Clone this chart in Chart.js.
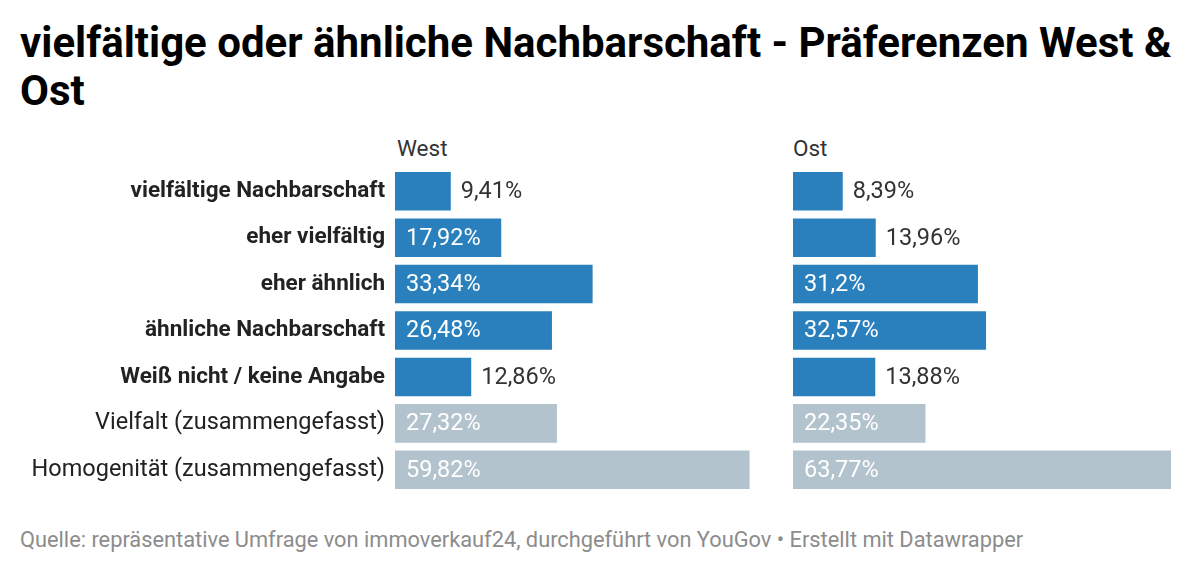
<!DOCTYPE html>
<html lang="de">
<head>
<meta charset="utf-8">
<script src="https://cdn.jsdelivr.net/npm/chart.js@4"></script>
<style>
  html, body { margin: 0; padding: 0; background: #fff; }
  body { width: 1200px; height: 573px; position: relative; overflow: hidden; font-family: Roboto, sans-serif; }
  #title { position: absolute; left: 20px; top: 19px; width: 1170px; font-weight: bold; font-size: 42px; line-height: 48px; color: #000; }
  .panel-head { position: absolute; top: 135px; font-size: 22.5px; color: #333; }
  #footer { position: absolute; left: 20px; top: 527px; font-size: 21.8px; color: #8c8c8c; white-space: nowrap; }
  canvas { position: absolute; top: 168px; }
</style>
</head>
<body>
<div id="title">vielfältige oder ähnliche Nachbarschaft - Präferenzen West &amp; Ost</div>
<div class="panel-head" style="left:397px">West</div>
<div class="panel-head" style="left:793px">Ost</div>
<canvas id="westChart" width="773" height="325" style="left:0"></canvas>
<canvas id="ostChart" width="407" height="325" style="left:793px"></canvas>
<div id="footer">Quelle: repräsentative Umfrage von immoverkauf24, durchgeführt von YouGov • Erstellt mit Datawrapper</div>

<script>
// ---- data ----
const categories = [
  'vielfältige Nachbarschaft',
  'eher vielfältig',
  'eher ähnlich',
  'ähnliche Nachbarschaft',
  'Weiß nicht / keine Angabe',
  'Vielfalt (zusammengefasst)',
  'Homogenität (zusammengefasst)'
];
const westValues = [9.41, 17.92, 33.34, 26.48, 12.86, 27.32, 59.82];
const ostValues = [8.39, 13.96, 31.2, 32.57, 13.88, 22.35, 63.77];
const boldRows = 5; // first five rows are the single answers

const BLUE = '#2a80bd';
const GREY = '#b3c3ce';
const X_MAX = 63.77;
const FONT = 'Roboto, sans-serif';

const barColors = categories.map((c, i) => i < boldRows ? BLUE : GREY);

function fmt(v) {
  return String(v).replace('.', ',') + '%';
}

// value labels: inside the bar when they fit, otherwise just after it
const valueLabels = {
  id: 'valueLabels',
  afterDatasetsDraw(chart) {
    const ctx = chart.ctx;
    const meta = chart.getDatasetMeta(0);
    const data = chart.data.datasets[0].data;
    ctx.save();
    ctx.font = '23.5px ' + FONT;
    ctx.textBaseline = 'middle';
    ctx.textAlign = 'left';
    meta.data.forEach((bar, i) => {
      const txt = fmt(data[i]);
      const tw = ctx.measureText(txt).width;
      const w = bar.x - bar.base;
      if (w >= tw + 24) {
        ctx.fillStyle = '#ffffff';
        ctx.fillText(txt, bar.base + 11, bar.y + 1);
      } else {
        ctx.fillStyle = '#333333';
        ctx.fillText(txt, bar.x + 10, bar.y + 1);
      }
    });
    ctx.restore();
  }
};

function makeChart(id, values, showLabels) {
  return new Chart(document.getElementById(id), {
    type: 'bar',
    data: {
      labels: categories,
      datasets: [{
        data: values,
        backgroundColor: barColors,
        borderWidth: 0,
        barPercentage: 0.83,
        categoryPercentage: 1
      }]
    },
    options: {
      indexAxis: 'y',
      responsive: false,
      animation: false,
      layout: { padding: { left: 0, right: showLabels ? 0 : 29, top: 0, bottom: 0 } },
      plugins: {
        legend: { display: false },
        tooltip: { enabled: false }
      },
      scales: {
        x: {
          display: false,
          min: 0,
          max: X_MAX
        },
        y: {
          display: showLabels,
          grid: { display: false, drawTicks: false },
          border: { display: false },
          afterFit: (scale) => {
            if (!showLabels) return;
            scale.width = 395;
            scale.paddingTop = 0;
            scale.paddingBottom = 0;
          },
          ticks: {
            color: '#222',
            padding: 10,
            font: (c) => c.index < boldRows
              ? { family: FONT, size: 22.5, weight: 'bold' }
              : { family: FONT, size: 23.5, weight: 'normal' }
          }
        }
      }
    },
    plugins: [valueLabels]
  });
}

let westChart, ostChart;
document.addEventListener('DOMContentLoaded', () => {
  westChart = makeChart('westChart', westValues, true);
  ostChart = makeChart('ostChart', ostValues, false);
});
</script>
</body>
</html>
